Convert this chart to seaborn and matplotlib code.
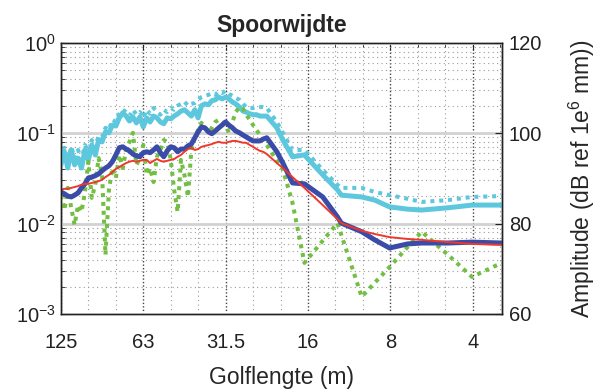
import numpy as np
import pandas as pd
import matplotlib
matplotlib.use("Agg")
import matplotlib.pyplot as plt
import seaborn as sns
from matplotlib.ticker import FixedLocator, FixedFormatter, NullFormatter, LogLocator

# golflengte (m), dichte 1/24-octaaf banden en daarna de grove punten
golflengte = [125.0, 121.4, 118.0, 114.6, 111.4, 108.2, 105.1, 102.1, 99.2, 96.4,
              93.6, 91.0, 88.4, 85.9, 83.4, 81.1, 78.7, 76.5, 74.3, 72.2,
              70.2, 68.2, 66.2, 64.3, 62.5, 60.7, 59.0, 57.3, 55.7, 54.1,
              52.6, 51.1, 49.6, 48.2, 46.8, 45.5, 44.2, 42.9, 41.7, 40.5,
              39.4, 38.3, 37.2, 36.1, 35.1, 34.1, 33.1, 32.2, 31.25, 30.4,
              29.5, 28.7, 27.8, 27.0, 26.3, 25.5, 24.8, 24.1, 23.4, 22.8, 22.1,
              20.3, 19.3, 17.8, 16.1, 13.8, 12.2, 11.8, 9.94, 8.91, 7.86,
              6.76, 6.00, 4.81, 3.93, 3.06]

# amplitudes in dB ref 1e-6 mm
cyaan = [93.0, 95.9, 92.3, 96.3, 93.0, 94.5, 92.3, 96.3, 94.1, 97.4,
         95.2, 98.5, 98.1, 100.3, 100.1, 101.8, 101.6, 103.4, 104.5, 103.8,
         102.7, 103.6, 102.3, 103.6, 101.4, 103.4, 102.5, 103.8, 103.4, 102.5,
         102.1, 103.4, 103.2, 103.8, 104.3, 104.9, 105.2, 104.5, 103.8, 105.2,
         103.4, 106.1, 106.5, 106.3, 107.2, 107.4, 108.0, 107.6, 108.0, 107.6,
         106.9, 106.5, 105.8, 104.9, 104.7, 104.3, 104.1, 104.1, 103.8, 103.8, 103.8,
         101.2, 98.5, 94.8, 95.2, 90.8, 87.5, 86.3, 85.9, 85.2, 83.7,
         83.2, 83.0, 83.5, 84.1, 84.1]

cyaan_gestippeld = [94.1, 96.8, 93.7, 97.0, 94.5, 96.3, 94.1, 97.4, 95.9, 98.5,
                    96.8, 99.6, 99.2, 101.2, 100.7, 103.0, 102.5, 104.3, 105.2, 104.7,
                    103.8, 105.2, 104.1, 104.7, 103.4, 105.2, 104.3, 105.6, 104.7, 104.1,
                    105.2, 104.7, 105.6, 105.2, 106.1, 106.5, 107.0, 106.1, 106.5, 106.7,
                    107.4, 108.0, 108.3, 108.5, 108.9, 108.5, 109.2, 108.9, 109.4, 108.7,
                    108.3, 107.8, 107.4, 106.5, 105.8, 105.6, 105.6, 105.8, 105.8, 105.8, 105.6,
                    102.5, 100.1, 96.3, 96.3, 91.9, 88.6, 87.9, 87.9, 87.0, 86.3,
                    85.5, 84.8, 85.2, 85.9, 86.1]

blauw = [87.0, 86.6, 86.1, 85.9, 86.3, 86.8, 87.9, 88.8, 90.1, 90.3,
         90.6, 91.0, 91.7, 92.3, 92.8, 93.7, 95.2, 96.8, 97.0, 96.5,
         96.1, 95.4, 95.0, 94.8, 95.7, 95.9, 95.7, 96.3, 97.0, 95.7,
         94.8, 96.1, 97.0, 96.8, 95.9, 96.5, 96.5, 97.2, 97.6, 99.0,
         100.3, 101.4, 101.2, 100.3, 99.9, 100.5, 101.2, 101.8, 102.5, 101.8,
         101.2, 100.5, 100.1, 99.6, 99.2, 98.7, 98.3, 98.3, 98.3, 98.7, 99.0,
         95.9, 93.4, 89.0, 88.8, 85.9, 81.5, 80.1, 78.2, 76.4, 74.6,
         75.5, 75.7, 75.7, 75.9, 75.7]

rood = [87.5, 87.7, 87.7, 87.9, 88.1, 88.3, 88.6, 88.8, 88.8, 89.0,
        89.2, 89.4, 89.7, 90.3, 90.8, 91.4, 92.1, 92.5, 93.0, 93.4,
        93.7, 93.9, 93.7, 93.9, 94.1, 94.1, 93.4, 93.9, 94.3, 93.9,
        93.7, 93.9, 94.1, 94.3, 94.8, 95.2, 95.9, 96.5, 96.8, 96.3,
        96.5, 97.0, 97.2, 97.4, 97.6, 97.9, 98.1, 97.9, 97.9, 98.1,
        98.3, 98.3, 98.1, 97.9, 97.9, 97.4, 97.0, 96.5, 96.1, 95.9, 95.4,
        93.4, 92.3, 90.3, 87.9, 84.1, 81.0, 80.1, 78.4, 77.7, 77.0,
        76.6, 76.4, 75.9, 75.5, 75.3]

groen = [86.3, 83.0, 87.9, 83.5, 79.7, 84.1, 82.6, 87.0, 93.7, 85.7,
         88.6, 94.5, 90.8, 73.1, 87.5, 92.3, 90.1, 95.2, 92.3, 96.3,
         98.1, 100.1, 93.0, 94.5, 97.4, 90.8, 92.3, 89.2, 94.8, 96.3,
         98.5, 98.1, 94.1, 87.5, 82.6, 94.1, 90.8, 85.9, 96.3, 99.0,
         100.7, 102.3, 101.2, 100.1, 101.2, 102.5, 103.0, 102.5, 101.8, 100.1,
         102.5, 104.7, 105.8, 105.4, 104.1, 103.0, 101.8, 100.7, 99.6, 98.5, 97.4,
         93.9, 92.0, 84.6, 71.3, 76.2, 80.1, 77.5, 63.8, 66.9, 70.4,
         74.8, 78.2, 73.1, 68.2, 71.3]

xtick_waarden = [125, 62.5, 31.25, 15.625, 7.8125, 3.90625]
xtick_labels = ['125', '63', '31.5', '16', '8', '4']

df = pd.DataFrame({'golflengte': golflengte, 'cyaan': cyaan,
                   'cyaan_gestippeld': cyaan_gestippeld, 'groen': groen,
                   'blauw': blauw, 'rood': rood})

sns.set_style("white")
plt.rcParams['font.family'] = ['Liberation Sans', 'DejaVu Sans']
plt.rcParams['mathtext.default'] = 'regular'

fig = plt.figure(figsize=(6.03, 3.9), dpi=100)
ax = fig.add_axes([0.101, 0.195, 0.731, 0.695])
ax.set_xscale('log')
ax.set_yscale('log')
ax2 = ax.twinx()

stijlen = [
  ('cyaan_gestippeld', '#5DC8DD', 2.9, (0, (1, 1.2))),
  ('cyaan', '#5DC8DD', 3.6, '-'),
  ('groen', '#72BF44', 2.9, (0, (1, 1.2))),
  ('blauw', '#3A4BA8', 3.6, '-'),
  ('rood', '#F0382A', 1.4, '-'),
]
for kolom, kleur, lw, ls in stijlen:
  sns.lineplot(data=df, x='golflengte', y=kolom, ax=ax2, color=kleur,
               linewidth=lw, linestyle=ls, sort=False, estimator=None)

ax.set_xlim(125, 3.06)
ax.set_ylim(1e-3, 1)
ax2.set_ylim(60, 120)

# x-as: octaven en 1/3-octaven
ax.xaxis.set_major_locator(FixedLocator(xtick_waarden))
ax.xaxis.set_major_formatter(FixedFormatter(xtick_labels))
terts = [125 * 2 ** (-j / 3) for j in range(1, 18) if j % 3 != 0]
ax.xaxis.set_minor_locator(FixedLocator(terts))
ax.xaxis.set_minor_formatter(NullFormatter())
ax.yaxis.set_minor_locator(LogLocator(base=10, subs=np.arange(2, 10)))
ax.yaxis.set_minor_formatter(NullFormatter())
ax2.yaxis.set_major_locator(FixedLocator([60, 80, 100, 120]))

# grid in matlab stijl
ax.grid(True, which='minor', axis='both', linestyle=(0, (1, 3)), linewidth=0.8, color='#9a9a9a')
ax.grid(True, which='major', axis='x', linestyle=(0, (1, 1.5)), linewidth=1.0, color='#444444')
ax.grid(False, which='major', axis='y')
ax2.set_axisbelow(True)
ax2.grid(True, axis='y', linestyle='-', linewidth=2.0, color='#d2d2d2')
ax2.grid(False, axis='x')

ax.tick_params(which='both', direction='in', top=True, right=False, colors='#222222',
               labelsize=14.5)
ax.tick_params(which='major', length=5, width=0.8)
ax.tick_params(which='minor', length=3, width=0.6)
ax.tick_params(axis='x', which='major', pad=14)
ax2.tick_params(direction='in', right=True, left=False, length=5, width=0.8,
                labelsize=14.5, colors='#222222', pad=5)

for a in (ax, ax2):
  for sp in a.spines.values():
    sp.set_color('#222222')
    sp.set_linewidth(1.0)

ax.set_title('Spoorwijdte', fontsize=16.5, fontweight='bold', pad=8)
ax.set_xlabel('Golflengte (m)', fontsize=16.5, labelpad=10)
ax.set_ylabel('')
ax2.set_xlabel('')
ax2.set_ylabel('Amplitude (dB ref 1e$^6$ mm))', fontsize=16.5, labelpad=18)

fig.savefig('out.png', dpi=100)
